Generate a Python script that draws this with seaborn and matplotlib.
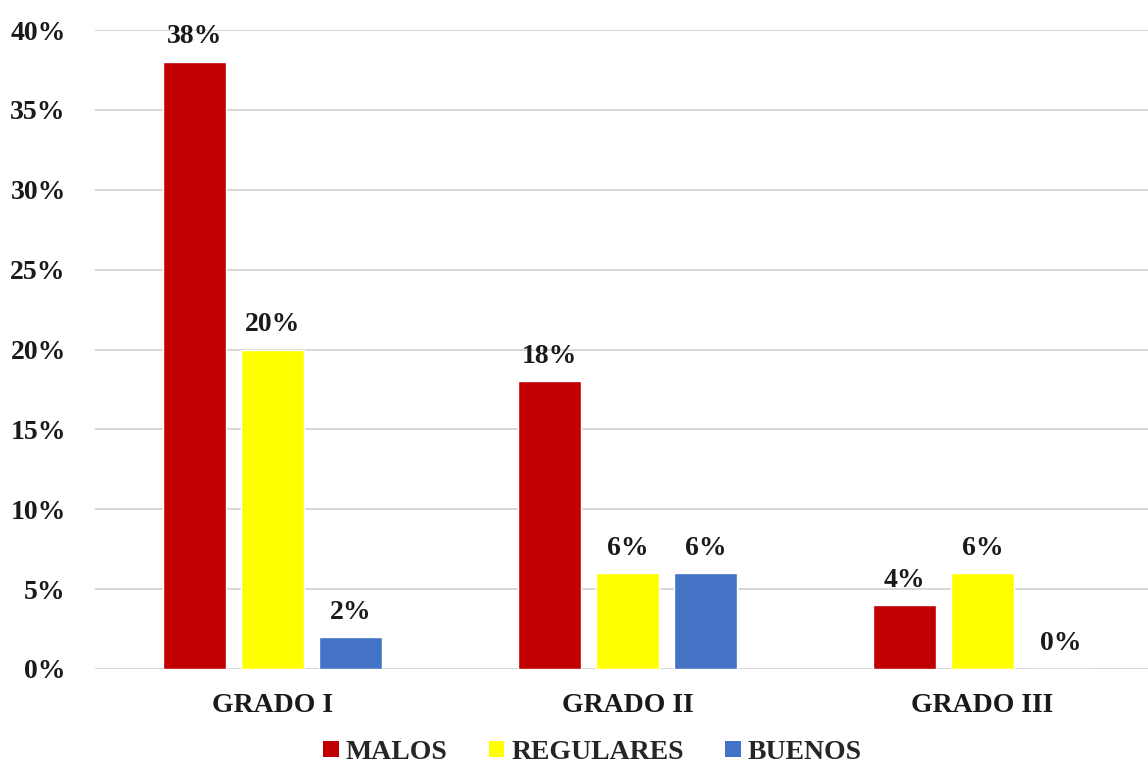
import matplotlib
matplotlib.use("Agg")
import matplotlib.pyplot as plt
import seaborn as sns
import pandas as pd
from matplotlib.patches import Patch
from matplotlib.ticker import MultipleLocator, FuncFormatter

categories = ["GRADO I", "GRADO II", "GRADO III"]
series = ["MALOS", "REGULARES", "BUENOS"]
malos = [38, 18, 4]
regulares = [20, 6, 6]
buenos = [2, 6, 0]
colors = ["#C00000", "#FFFF00", "#4472C4"]

rows = []
for name, vals in zip(series, [malos, regulares, buenos]):
    for cat, v in zip(categories, vals):
        rows.append({"grado": cat, "serie": name, "valor": v})
df = pd.DataFrame(rows)

sns.set_style("white")
plt.rcParams["font.family"] = ["Liberation Serif", "DejaVu Serif"]
plt.rcParams["font.weight"] = "bold"

FS = 20

fig = plt.figure(figsize=(11.48, 7.69), dpi=100)
ax = fig.add_axes([95 / 1148, 1 - 669 / 769, 1065 / 1148, 639 / 769])

sns.barplot(data=df, x="grado", y="valor", hue="serie", order=categories,
            hue_order=series, palette=colors, width=0.66, gap=0.2,
            saturation=1, legend=False, ax=ax)

for cont, vals in zip(ax.containers, [malos, regulares, buenos]):
    ax.bar_label(cont, labels=[f"{v}%" for v in vals], padding=9,
                 fontsize=FS, fontweight="bold", color="#1a1a1a")

ax.set_xlim(-0.5, 2.5)
ax.set_ylim(0, 40)
ax.yaxis.set_major_locator(MultipleLocator(5))
ax.yaxis.set_major_formatter(FuncFormatter(lambda v, p: f"{int(v)}%"))
ax.grid(axis="y", color="#D4D4D4", linewidth=1.3)
ax.set_axisbelow(True)
for s in ["top", "right", "left", "bottom"]:
    ax.spines[s].set_visible(False)
ax.tick_params(axis="both", length=0, labelsize=FS, colors="#1a1a1a")
ax.tick_params(axis="y", pad=21)
ax.tick_params(axis="x", pad=17)
for lbl in ax.get_xticklabels() + ax.get_yticklabels():
    lbl.set_fontweight("bold")
ax.set_xlabel("")
ax.set_ylabel("")

handles = [Patch(facecolor=c, edgecolor="none", label=s) for c, s in zip(colors, series)]
fig.legend(handles=handles, loc="lower center", bbox_to_anchor=(0.516, -0.027),
           ncol=3, frameon=False, handlelength=0.55, handleheight=0.55,
           handletextpad=0.25, columnspacing=1.5, prop={"weight": "bold", "size": FS})

fig.savefig("out.png", dpi=100)
